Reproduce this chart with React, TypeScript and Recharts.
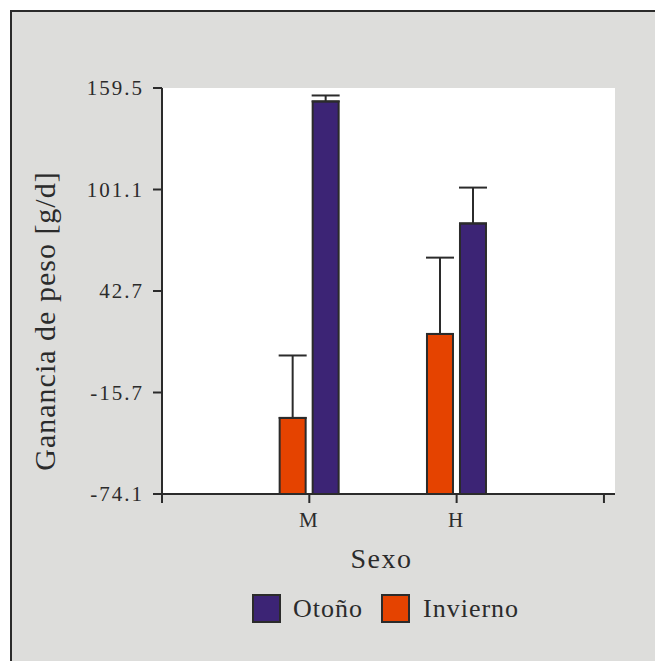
import { BarChart, Bar, XAxis, YAxis, CartesianGrid, ErrorBar } from "recharts"

// values (g/d)
const categories = ["M", "H"]
const otono = [151.8, 81.6]
const otonoErr = [3.4, 20.6]
const invierno = [-30.3, 18.0]
const inviernoErr = [35.9, 43.9]
const yTicks = [-74.1, -15.7, 42.7, 101.1, 159.5]
const seriesNames = { otono: "Otoño", invierno: "Invierno" }

const colors = { otono: "#3c2475", invierno: "#e54300", ink: "#2b2b2b", bg: "#dddddb" }
const font = "'Liberation Serif', 'Times New Roman', serif"

// bars grow from the bottom of the axis, so shift everything by the axis minimum
const base = yTicks[0]
const data = categories.map((c, i) => ({
  x: i + 1,
  name: c,
  invierno: invierno[i] - base,
  inviernoErr: [0, inviernoErr[i]],
  otono: otono[i] - base,
  otonoErr: [0, otonoErr[i]],
}))
const shiftedTicks = yTicks.map(t => t - base)

const YLabel = ({ viewBox }: any) => {
  const x = viewBox.x + 55
  const y = viewBox.y + viewBox.height / 2 + 30
  return (
    <text x={x} y={y} transform={`rotate(-90, ${x}, ${y})`} textAnchor="middle"
      fontSize={30} letterSpacing={1} fill={colors.ink} fontFamily={font}>
      Ganancia de peso [g/d]
    </text>
  )
}

const XLabel = ({ viewBox }: any) => (
  <text x={viewBox.x + viewBox.width / 2 - 7} y={viewBox.y + 74} textAnchor="middle"
    fontSize={28} letterSpacing={1.5} fill={colors.ink} fontFamily={font}>
    Sexo
  </text>
)

const Swatch = ({ color }: { color: string }) => (
  <span style={{ display: "inline-block", width: 25, height: 25, background: color, border: `2px solid ${colors.ink}` }} />
)

export default function App() {
  const tickStyle = { fontSize: 21, fill: colors.ink, fontFamily: font, letterSpacing: 2 }
  return (
    <div style={{ width: 655, height: 661, overflow: "hidden", position: "relative", fontFamily: font }}>
      <style>{`body{margin:0;overflow:hidden}`}</style>
      <div style={{ position: "absolute", left: 10, top: 10, right: -10, bottom: -10, background: colors.bg,
        borderLeft: `2px solid ${colors.ink}`, borderTop: `2px solid ${colors.ink}` }} />
      <div style={{ position: "absolute", left: 0, top: 0 }}>
        <BarChart width={655} height={661} data={data} margin={{ top: 88, right: 40, left: 0, bottom: 0 }}
          barSize={26} barGap={7}>
          <CartesianGrid horizontal={false} vertical={false} fill="#ffffff" />
          <XAxis dataKey="x" type="number" domain={[0, 3.075]} ticks={[0, 1, 2, 3]} height={167}
            tickFormatter={(v: number) => categories[v - 1] ?? ""}
            axisLine={{ stroke: colors.ink, strokeWidth: 2 }} tickLine={{ stroke: colors.ink, strokeWidth: 2 }}
            tickSize={9} tickMargin={9} tick={tickStyle} label={<XLabel />} />
          <YAxis type="number" domain={[0, shiftedTicks[shiftedTicks.length - 1]]} ticks={shiftedTicks} width={162}
            tickFormatter={(_v: number, i: number) => yTicks[i].toFixed(1)}
            axisLine={{ stroke: colors.ink, strokeWidth: 2 }} tickLine={{ stroke: colors.ink, strokeWidth: 2 }}
            tickSize={9} tickMargin={9} tick={tickStyle} label={<YLabel />} />
          <Bar dataKey="invierno" name={seriesNames.invierno} fill={colors.invierno} stroke={colors.ink} strokeWidth={2}
            isAnimationActive={false}>
            <ErrorBar dataKey="inviernoErr" width={14} stroke={colors.ink} strokeWidth={2} direction="y" isAnimationActive={false} />
          </Bar>
          <Bar dataKey="otono" name={seriesNames.otono} fill={colors.otono} stroke={colors.ink} strokeWidth={2}
            isAnimationActive={false}>
            <ErrorBar dataKey="otonoErr" width={14} stroke={colors.ink} strokeWidth={2} direction="y" isAnimationActive={false} />
          </Bar>
        </BarChart>
      </div>
      <div style={{ position: "absolute", left: 252, top: 594, display: "flex", alignItems: "center",
        fontSize: 26, letterSpacing: 1, color: colors.ink, lineHeight: "29px" }}>
        <Swatch color={colors.otono} />
        <span style={{ marginLeft: 12, marginRight: 18 }}>{seriesNames.otono}</span>
        <Swatch color={colors.invierno} />
        <span style={{ marginLeft: 13 }}>{seriesNames.invierno}</span>
      </div>
    </div>
  )
}
